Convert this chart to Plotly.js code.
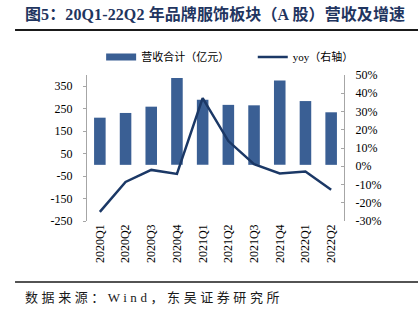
<!DOCTYPE html>
<html>
<head>
<meta charset="utf-8">
<script src="https://cdn.plot.ly/plotly-3.0.1.min.js"></script>
<style>
html,body{margin:0;padding:0;background:#fff;}
#chart{width:418px;height:321px;}
</style>
</head>
<body>
<div id="chart"></div>
<script>
// ---- data ----
const categories = ["2020Q1","2020Q2","2020Q3","2020Q4","2021Q1","2021Q2","2021Q3","2021Q4","2022Q1","2022Q2"];
const revenue = [210, 231, 259, 387, 290, 267, 265, 375, 284, 234];
const yoy = [-25.0, -8.6, -2.0, -4.2, 37.3, 13.8, 1.1, -4.0, -2.9, -12.9];
const leftTicks = [350, 250, 150, 50, -50, -150, -250];
const rightTicks = [50, 40, 30, 20, 10, 0, -10, -20, -30];
const barName = "营收合计（亿元）";
const lineName = "yoy（右轴）";
const titleText = "图5：20Q1-22Q2 年品牌服饰板块（A 股）营收及增速";
const sourceText = "数据来源：Wind，东吴证券研究所";

// ---- layout constants ----
const leftRange = [-250, 400];
const rightRange = [-30, 50];
const zeroPos = (0 - leftRange[0]) / (leftRange[1] - leftRange[0]);
const FONT = "'Liberation Serif', 'Times New Roman', 'Noto Sans CJK SC', serif";
const BAR_COLOR = "#3a5f94";
const LINE_COLOR = "#1b3866";

const traces = [
  {
    type: "bar", name: barName, x: categories, y: revenue,
    marker: {color: BAR_COLOR}, yaxis: "y", xaxis: "x", showlegend: false
  },
  { // legend entry for the bars (wide flat swatch like the reference)
    type: "scatter", mode: "lines", name: barName, x: [null], y: [null],
    line: {color: BAR_COLOR, width: 7}, yaxis: "y", xaxis: "x",
    legend: "legend", showlegend: true
  },
  {
    type: "scatter", mode: "lines", name: lineName, x: categories, y: yoy,
    line: {color: LINE_COLOR, width: 2.5}, yaxis: "y2", xaxis: "x",
    legend: "legend2", showlegend: true
  }
];

const legendBase = {
  orientation: "h", xanchor: "left", y: 1.123, yanchor: "middle",
  font: {family: FONT, size: 11, color: "#000"},
  bgcolor: "rgba(0,0,0,0)"
};

const layout = {
  width: 418, height: 321,
  margin: {l: 87, r: 74, t: 75, b: 100},
  paper_bgcolor: "#fff", plot_bgcolor: "#fff",
  font: {family: FONT, size: 12, color: "#000"},
  showlegend: true,
  bargap: 0.55,
  title: {
    text: "<b>" + titleText + "</b>",
    x: 0.06, xanchor: "left", xref: "container",
    y: 1 - 14/321, yanchor: "middle", yref: "container",
    font: {family: FONT, size: 16, color: "#1f3560"}
  },
  legend: Object.assign({}, legendBase, {x: 0.055}),
  legend2: Object.assign({}, legendBase, {x: 0.645}),
  xaxis: {
    type: "category", categoryarray: categories, categoryorder: "array",
    showline: false, ticks: "", showgrid: false, zeroline: false,
    tickangle: -90, tickfont: {family: FONT, size: 12, color: "#000"},
    fixedrange: true
  },
  xaxis2: {
    overlaying: "x", anchor: "free", position: zeroPos,
    type: "linear", range: [-0.5, categories.length - 0.5],
    tickvals: categories.slice(1).map((_, i) => i + 0.5),
    showticklabels: false, ticks: "inside", ticklen: 3, tickcolor: "#808080",
    showline: true, linecolor: "#595959", linewidth: 1,
    showgrid: false, zeroline: false
  },
  yaxis: {
    range: leftRange, tickvals: leftTicks, ticktext: leftTicks.map(String),
    showgrid: false, zeroline: false,
    showline: true, linecolor: "#a6a6a6", linewidth: 1,
    ticks: "outside", ticklen: 3, tickcolor: "#a6a6a6",
    ticklabelstandoff: 8,
    tickfont: {family: FONT, size: 12, color: "#000"}
  },
  yaxis2: {
    overlaying: "y", side: "right", range: rightRange,
    tickvals: rightTicks, ticktext: rightTicks.map(v => v + "%"),
    showgrid: false, zeroline: false,
    showline: true, linecolor: "#a6a6a6", linewidth: 1,
    ticks: "inside", ticklen: 3, tickcolor: "#a6a6a6",
    ticklabelstandoff: 8,
    tickfont: {family: FONT, size: 12, color: "#000"}
  },
  shapes: [
    {type: "line", xref: "paper", yref: "paper", x0: -0.28, x1: 1.30, y0: 1.308, y1: 1.308,
     line: {color: "#1a1a1a", width: 2}},
    {type: "line", xref: "paper", yref: "paper", x0: -0.28, x1: 1.30, y0: -0.418, y1: -0.418,
     line: {color: "#1a1a1a", width: 1.5}}
  ],
  annotations: [
    {text: sourceText, xref: "paper", yref: "paper", x: -0.241, y: -0.527,
     xanchor: "left", yanchor: "middle", showarrow: false,
     font: {family: FONT, size: 13, color: "#1a1a1a"}}
  ]
};

// spread a text element so that it spans [left, left+width] on screen
function fitText(el, left, width) {
  if (!el) return;
  const n = el.textContent.length;
  el.style.letterSpacing = "0px";
  let ls = 0;
  for (let k = 0; k < 4; k++) {
    const r = el.getBoundingClientRect();
    ls += (width - r.width) / Math.max(n - 1, 1);
    el.style.letterSpacing = ls.toFixed(2) + "px";
  }
  const base = el.getAttribute("transform") || "";
  el.setAttribute("transform", base);
  const r2 = el.getBoundingClientRect();
  const dx = left - r2.left;
  el.setAttribute("transform", "translate(" + dx.toFixed(2) + ",0) " + base);
}

Plotly.newPlot("chart", traces, layout, {displayModeBar: false, staticPlot: true}).then(function (gd) {
  fitText(gd.querySelector(".gtitle"), 25, 380);
  fitText(gd.querySelector(".annotation-text"), 25, 258);
});
</script>
</body>
</html>
